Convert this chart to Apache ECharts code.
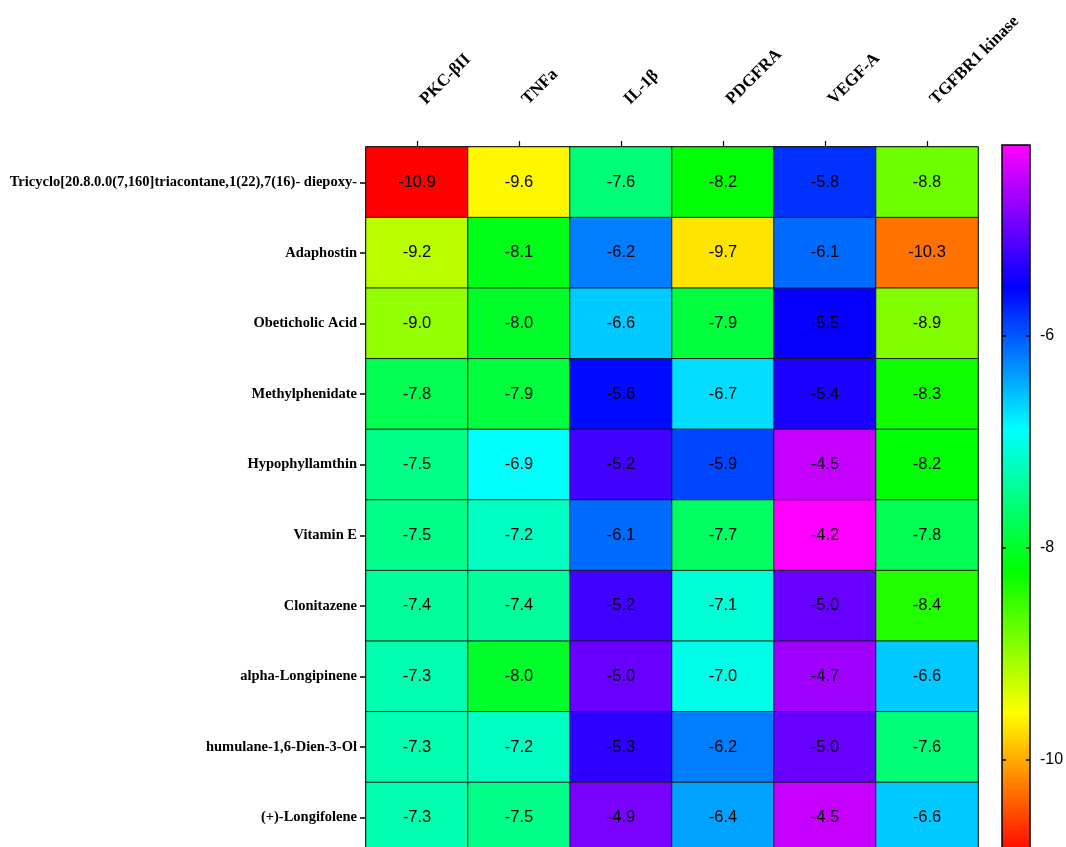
<!DOCTYPE html>
<html>
<head>
<meta charset="utf-8">
<title>Docking scores heatmap</title>
<script src="https://cdn.jsdelivr.net/npm/echarts@6/dist/echarts.min.js"></script>
<style>
  html, body { margin: 0; padding: 0; background: #ffffff; }
  #chart { width: 1066px; height: 847px; }
</style>
</head>
<body>
<div id="chart"></div>
<script>
// Compounds (rows, top to bottom) and protein targets (columns)
const compounds = [
  'Tricyclo[20.8.0.0(7,160]triacontane,1(22),7(16)- diepoxy-',
  'Adaphostin',
  'Obeticholic Acid',
  'Methylphenidate',
  'Hypophyllamthin',
  'Vitamin E',
  'Clonitazene',
  'alpha-Longipinene',
  'humulane-1,6-Dien-3-Ol',
  '(+)-Longifolene'
];
const targets = ['PKC-βII', 'TNFa', 'IL-1β', 'PDGFRA', 'VEGF-A', 'TGFBR1 kinase'];

// Binding energies (kcal/mol) per target, in compound order
const pkcBII  = [-10.9, -9.2, -9.0, -7.8, -7.5, -7.5, -7.4, -7.3, -7.3, -7.3];
const tnfa    = [-9.6, -8.1, -8.0, -7.9, -6.9, -7.2, -7.4, -8.0, -7.2, -7.5];
const il1b    = [-7.6, -6.2, -6.6, -5.6, -5.2, -6.1, -5.2, -5.0, -5.3, -4.9];
const pdgfra  = [-8.2, -9.7, -7.9, -6.7, -5.9, -7.7, -7.1, -7.0, -6.2, -6.4];
const vegfA   = [-5.8, -6.1, -5.5, -5.4, -4.5, -4.2, -5.0, -4.7, -5.0, -4.5];
const tgfbr1  = [-8.8, -10.3, -8.9, -8.3, -8.2, -7.8, -8.4, -6.6, -7.6, -6.6];

// Colour scale range and colour-bar tick labels
const scaleMin = -10.9;
const scaleMax = -4.2;
const colorbarTicks = [-10, -8, -6];

const columns = [pkcBII, tnfa, il1b, pdgfra, vegfA, tgfbr1];
const cells = [];
columns.forEach((col, xi) => {
  col.forEach((v, yi) => cells.push([xi, yi, v]));
});

const serifBold = {
  fontFamily: '"Liberation Serif", "Times New Roman", serif',
  fontWeight: 'bold',
  color: '#000'
};

const chart = echarts.init(document.getElementById('chart'), null, { renderer: 'canvas' });

chart.setOption({
  backgroundColor: '#ffffff',
  animation: false,
  grid: [
    { left: 366, top: 147, width: 612, height: 706, show: true, outerBoundsMode: 'none',
      borderColor: '#000', borderWidth: 1, backgroundColor: 'transparent' },
    { left: 1002, top: 145, width: 28, height: 710, show: true, z: 10, outerBoundsMode: 'none',
      borderColor: '#000', borderWidth: 1.5, backgroundColor: 'transparent' }
  ],
  xAxis: [
    {
      type: 'category', gridIndex: 0, data: targets, position: 'top',
      axisLine: { show: true, lineStyle: { color: '#000', width: 1.5 } },
      axisTick: { show: true, alignWithLabel: true, length: 6, lineStyle: { color: '#000', width: 1.2 } },
      axisLabel: Object.assign({ rotate: -45, fontSize: 17, margin: 51, align: 'left', verticalAlign: 'top' }, serifBold),
      splitLine: { show: false }, splitArea: { show: false }
    },
    { type: 'value', gridIndex: 1, show: false, min: 0, max: 1 }
  ],
  yAxis: [
    {
      type: 'category', gridIndex: 0, data: compounds, inverse: true,
      axisLine: { show: true, lineStyle: { color: '#000', width: 1.5 } },
      axisTick: { show: true, alignWithLabel: true, length: 6, lineStyle: { color: '#000', width: 1.5 } },
      axisLabel: Object.assign({ fontSize: 14.5, margin: 9 }, serifBold),
      splitLine: { show: false }, splitArea: { show: false }
    },
    {
      type: 'value', gridIndex: 1, position: 'left', min: scaleMin, max: scaleMax, z: 11,
      axisLine: { show: false },
      axisTick: { show: true, inside: true, length: 4, customValues: colorbarTicks, lineStyle: { color: '#000', width: 1.5 } },
      axisLabel: { show: false },
      splitLine: { show: false }
    },
    {
      type: 'value', gridIndex: 1, position: 'right', min: scaleMin, max: scaleMax, z: 11,
      axisLine: { show: false },
      axisTick: { show: true, inside: true, length: 4, customValues: colorbarTicks, lineStyle: { color: '#000', width: 1.5 } },
      axisLabel: {
        show: true, customValues: colorbarTicks, margin: 10, fontSize: 16, color: '#000',
        fontFamily: '"Liberation Sans", Arial, sans-serif'
      },
      splitLine: { show: false }
    }
  ],
  visualMap: {
    type: 'continuous',
    min: scaleMin, max: scaleMax,
    seriesIndex: 0,
    calculable: false,
    hoverLink: false,
    orient: 'vertical',
    left: 1002, top: 145,
    itemWidth: 28, itemHeight: 710,
    padding: 0,
    text: null,
    inRange: { color: ['#ff0000', '#ffff00', '#00ff00', '#00ffff', '#0000ff', '#ff00ff'] }
  },
  series: [{
    type: 'heatmap',
    xAxisIndex: 0, yAxisIndex: 0,
    data: cells,
    itemStyle: { borderColor: '#1a1a1a', borderWidth: 1 },
    label: {
      show: true,
      formatter: p => p.value[2].toFixed(1),
      color: '#000', fontSize: 16.5,
      fontFamily: '"Liberation Sans", Arial, sans-serif'
    },
    emphasis: { disabled: true }
  }]
});
</script>
</body>
</html>
